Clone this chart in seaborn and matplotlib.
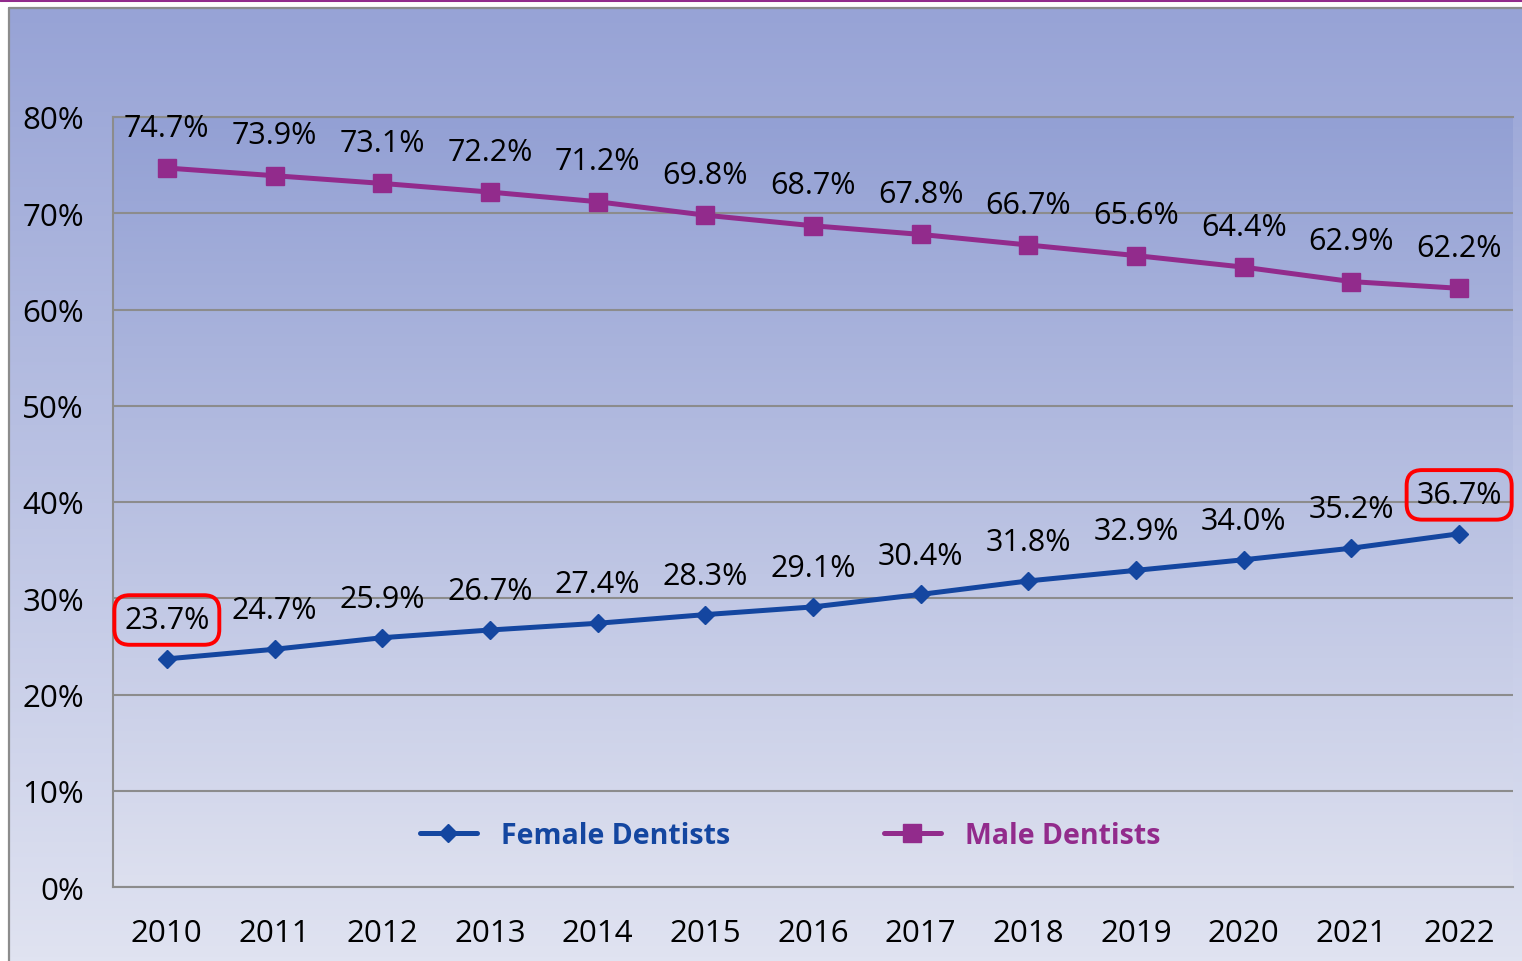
import numpy as np
import pandas as pd
import matplotlib
matplotlib.use("Agg")
import matplotlib.pyplot as plt
from matplotlib.lines import Line2D
from matplotlib.colors import LinearSegmentedColormap
import seaborn as sns

# data
years = ["2010", "2011", "2012", "2013", "2014", "2015", "2016",
         "2017", "2018", "2019", "2020", "2021", "2022"]
female = [23.7, 24.7, 25.9, 26.7, 27.4, 28.3, 29.1, 30.4, 31.8, 32.9, 34.0, 35.2, 36.7]
male = [74.7, 73.9, 73.1, 72.2, 71.2, 69.8, 68.7, 67.8, 66.7, 65.6, 64.4, 62.9, 62.2]
series_names = ["Female Dentists", "Male Dentists"]
highlight_female = [0, 12]  # labels boxed in red

BLUE = "#1446A0"
PURPLE = "#922B8C"
GRID = "#8C8C8C"

sns.set_theme(style="white")
plt.rcParams["font.family"] = ["Open Sans", "DejaVu Sans"]

df = pd.DataFrame({
    "pos": list(range(len(years))) * 2,
    "value": female + male,
    "series": [series_names[0]] * len(years) + [series_names[1]] * len(years),
})

W, H = 1522, 962
fig = plt.figure(figsize=(W / 100, H / 100), dpi=100)
fig.patch.set_facecolor("white")

# chart area background with vertical gradient
bg = fig.add_axes([0, 0, 1, 1], zorder=-10)
bg.set_axis_off()
bg.set_xlim(0, W)
bg.set_ylim(H, 0)
cmap_bg = LinearSegmentedColormap.from_list("bg", ["#97A3D6", "#E0E3F1"])
grad = np.linspace(0, 1, 256).reshape(-1, 1)
bg.imshow(grad, cmap=cmap_bg, extent=[9, W, H, 9], aspect="auto")
bg.plot([0, W], [1, 1], color=PURPLE, lw=2.2)
bg.plot([9, W], [9, 9], color=GRID, lw=1.6)
bg.plot([9, 9], [9, H], color=GRID, lw=1.6)

# plot area
left, right, top, bottom = 113, 1513, 118, 888
ax = fig.add_axes([left / W, 1 - bottom / H, (right - left) / W, (bottom - top) / H])
ax.set_facecolor("none")
cmap_ax = LinearSegmentedColormap.from_list("ax", ["#93A0D4", "#DDE0EF"])
ax.imshow(grad, cmap=cmap_ax, extent=(0, 1, 0, 1), transform=ax.transAxes,
          aspect="auto", zorder=-1)

sns.lineplot(data=df, x="pos", y="value", hue="series", style="series",
             palette={series_names[0]: BLUE, series_names[1]: PURPLE},
             markers={series_names[0]: "D", series_names[1]: "s"},
             dashes=False, linewidth=3.6, legend=False, ax=ax, zorder=3)
for ln in ax.lines:
    if ln.get_marker() == "D":
        ln.set_markersize(9.5)
    else:
        ln.set_markersize(12.5)
    ln.set_markeredgewidth(1)
    ln.set_markeredgecolor(ln.get_color())

ax.set_xlim(-0.5, len(years) - 0.5)
ax.set_ylim(0, 80)
ax.set_xticks(range(len(years)))
ax.set_xticklabels(years)
ax.set_yticks(range(0, 81, 10))
ax.set_yticklabels([f"{v}%" for v in range(0, 81, 10)])
ax.tick_params(axis="y", length=0, pad=21, labelsize=22.5, labelcolor="black")
ax.tick_params(axis="x", length=0, pad=22, labelsize=22.5, labelcolor="black")
ax.set_xlabel("")
ax.set_ylabel("")
ax.set_axisbelow(True)
ax.yaxis.grid(True, color=GRID, lw=1.5)
ax.xaxis.grid(False)
for side in ["left", "bottom", "top"]:
    ax.spines[side].set_visible(True)
    ax.spines[side].set_color(GRID)
    ax.spines[side].set_linewidth(1.5)
ax.spines["right"].set_visible(False)

# data labels
for i, v in enumerate(male):
    ax.annotate(f"{v:.1f}%", (i, v), xytext=(0, 29), textcoords="offset points",
                ha="center", va="center", fontsize=22, color="black", zorder=4)
for i, v in enumerate(female):
    box = None
    if i in highlight_female:
        box = dict(boxstyle="round,pad=0.32,rounding_size=0.5", fc="none",
                   ec="#FF0000", lw=2.8)
    ax.annotate(f"{v:.1f}%", (i, v), xytext=(0, 28), textcoords="offset points",
                ha="center", va="center", fontsize=22, color="black",
                bbox=box, zorder=4)

# legend
handles = [
    Line2D([], [], color=BLUE, lw=3.6, marker="D", markersize=9.5),
    Line2D([], [], color=PURPLE, lw=3.6, marker="s", markersize=12.5),
]
leg = fig.legend(handles, series_names, loc="center", ncol=2, frameon=False,
                 bbox_to_anchor=(790 / W, 1 - 836 / H),
                 prop={"weight": "bold", "size": 20.5},
                 handlelength=2.0, handletextpad=0.85, columnspacing=5.4)
for txt, c in zip(leg.get_texts(), [BLUE, PURPLE]):
    txt.set_color(c)

fig.savefig("out.png", dpi=100)
